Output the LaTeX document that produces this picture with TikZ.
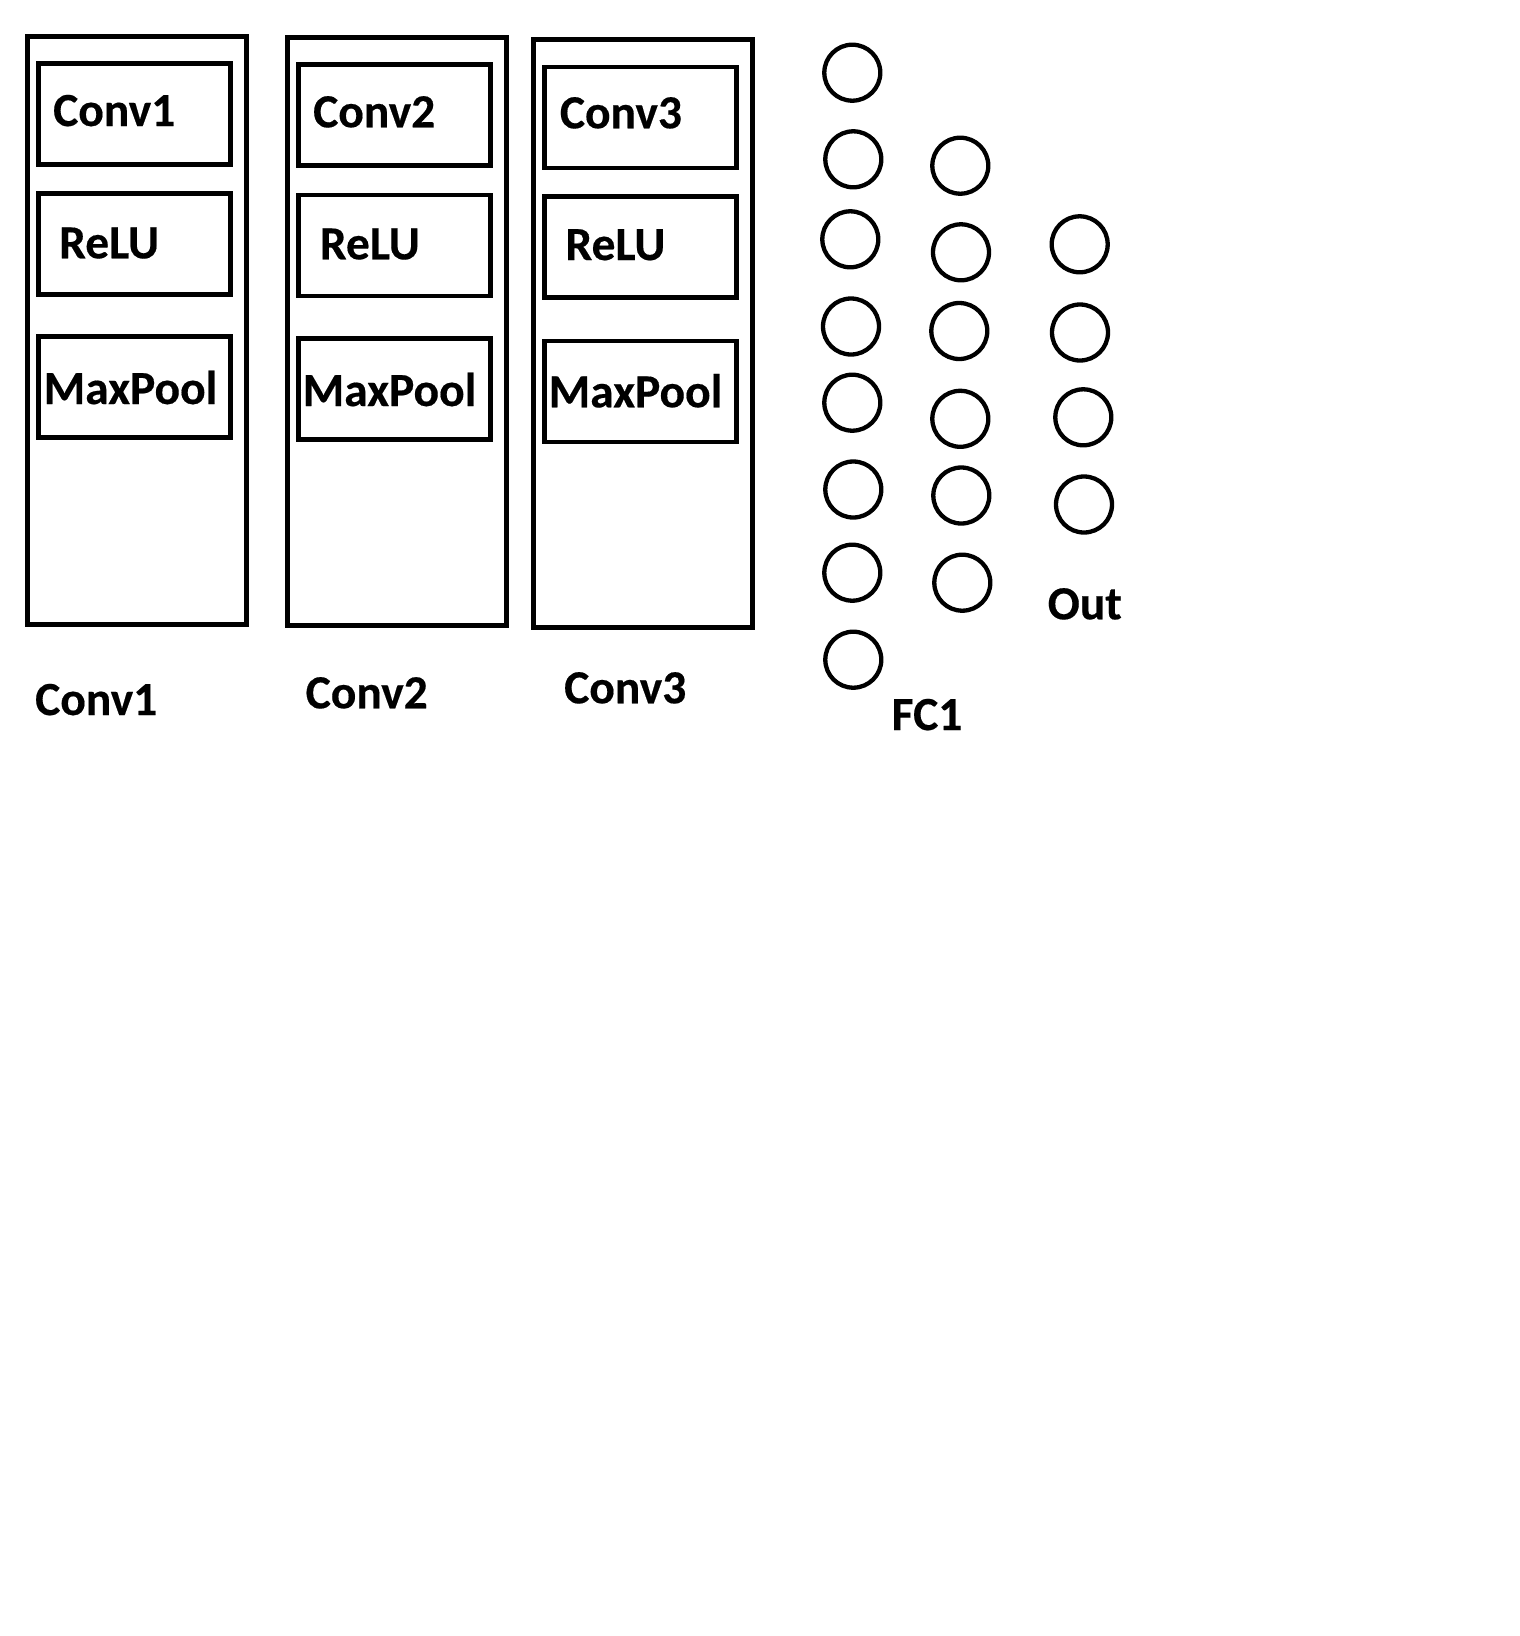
\documentclass[tikz,border=0pt]{standalone}
\usepackage{fontspec}
\setmainfont{Carlito}[BoldFeatures={FakeBold=0.35}]
\begin{document}
\begin{tikzpicture}[x=1pt,y=-1pt,
  outerbox/.style={draw=black, line width=4.6pt, rectangle, inner sep=0pt, minimum width=219pt, minimum height=588pt},
  innerbox/.style={draw=black, line width=4.6pt, rectangle, inner sep=0pt, minimum width=192pt, minimum height=101pt},
  neuron/.style={draw=black, line width=4.3pt, circle, inner sep=0pt, minimum size=56pt},
  lbl/.style={anchor=base west, inner sep=0pt, font=\fontsize{47.5}{56}\selectfont\bfseries}]
\useasboundingbox (0,0) rectangle (1520,1636);
\fill[white] (0,0) rectangle (1520,1636);
% outer boxes
\node[outerbox] (B1) at (137.2,330.4) {};
\node[outerbox] (B2) at (397.2,331.2) {};
\node[outerbox] (B3) at (642.8,333.5) {};
% inner boxes
\node[innerbox] (C1) at (134.5,114.2) {};
\node[innerbox] (R1) at (134.5,243.7) {};
\node[innerbox] (M1) at (134.5,387.0) {};
\node[innerbox] (C2) at (394.4,115.2) {};
\node[innerbox] (R2) at (394.4,245.4) {};
\node[innerbox] (M2) at (394.4,389.2) {};
\node[innerbox] (C3) at (640.5,117.5) {};
\node[innerbox] (R3) at (640.5,247.2) {};
\node[innerbox] (M3) at (640.5,391.3) {};
% texts in boxes
\node[lbl] (tC1) at (53,126) {Conv1};
\node[lbl] (tR1) at (59,258.3) {ReLU};
\node[lbl] (tM1) at (43.5,404) {MaxPool};
\node[lbl] (tC2) at (313,127.3) {Conv2};
\node[lbl] (tR2) at (319.7,259.3) {ReLU};
\node[lbl] (tM2) at (302.5,406) {MaxPool};
\node[lbl] (tC3) at (559.7,128.3) {Conv3};
\node[lbl] (tR3) at (565.3,260) {ReLU};
\node[lbl] (tM3) at (548.5,407.3) {MaxPool};
% captions
\node[lbl] (cap1) at (35,715) {Conv1};
\node[lbl] (cap2) at (305.5,708.3) {Conv2};
\node[lbl] (cap3) at (564,703.3) {Conv3};
\node[lbl] (capF) at (891.5,730) {FC1};
\node[lbl] (capO) at (1047.5,619.3) {Out};
% neurons: column 1
\node[neuron] (a1) at (852.3,72.7) {};
\node[neuron] (a2) at (853.3,159.3) {};
\node[neuron] (a3) at (850.3,239.3) {};
\node[neuron] (a4) at (851.0,326.5) {};
\node[neuron] (a5) at (852.3,402.7) {};
\node[neuron] (a6) at (853.3,489.5) {};
\node[neuron] (a7) at (852.3,572.7) {};
\node[neuron] (a8) at (853.3,659.7) {};
% column 2
\node[neuron] (b1) at (960.3,165.7) {};
\node[neuron] (b2) at (961.0,252.3) {};
\node[neuron] (b3) at (959.3,331.0) {};
\node[neuron] (b4) at (960.3,418.8) {};
\node[neuron] (b5) at (961.3,495.5) {};
\node[neuron] (b6) at (962.3,582.7) {};
% column 3
\node[neuron] (o1) at (1079.7,244.3) {};
\node[neuron] (o2) at (1080.0,332.5) {};
\node[neuron] (o3) at (1083.3,417.3) {};
\node[neuron] (o4) at (1084.0,504.5) {};
\end{tikzpicture}
\end{document}
